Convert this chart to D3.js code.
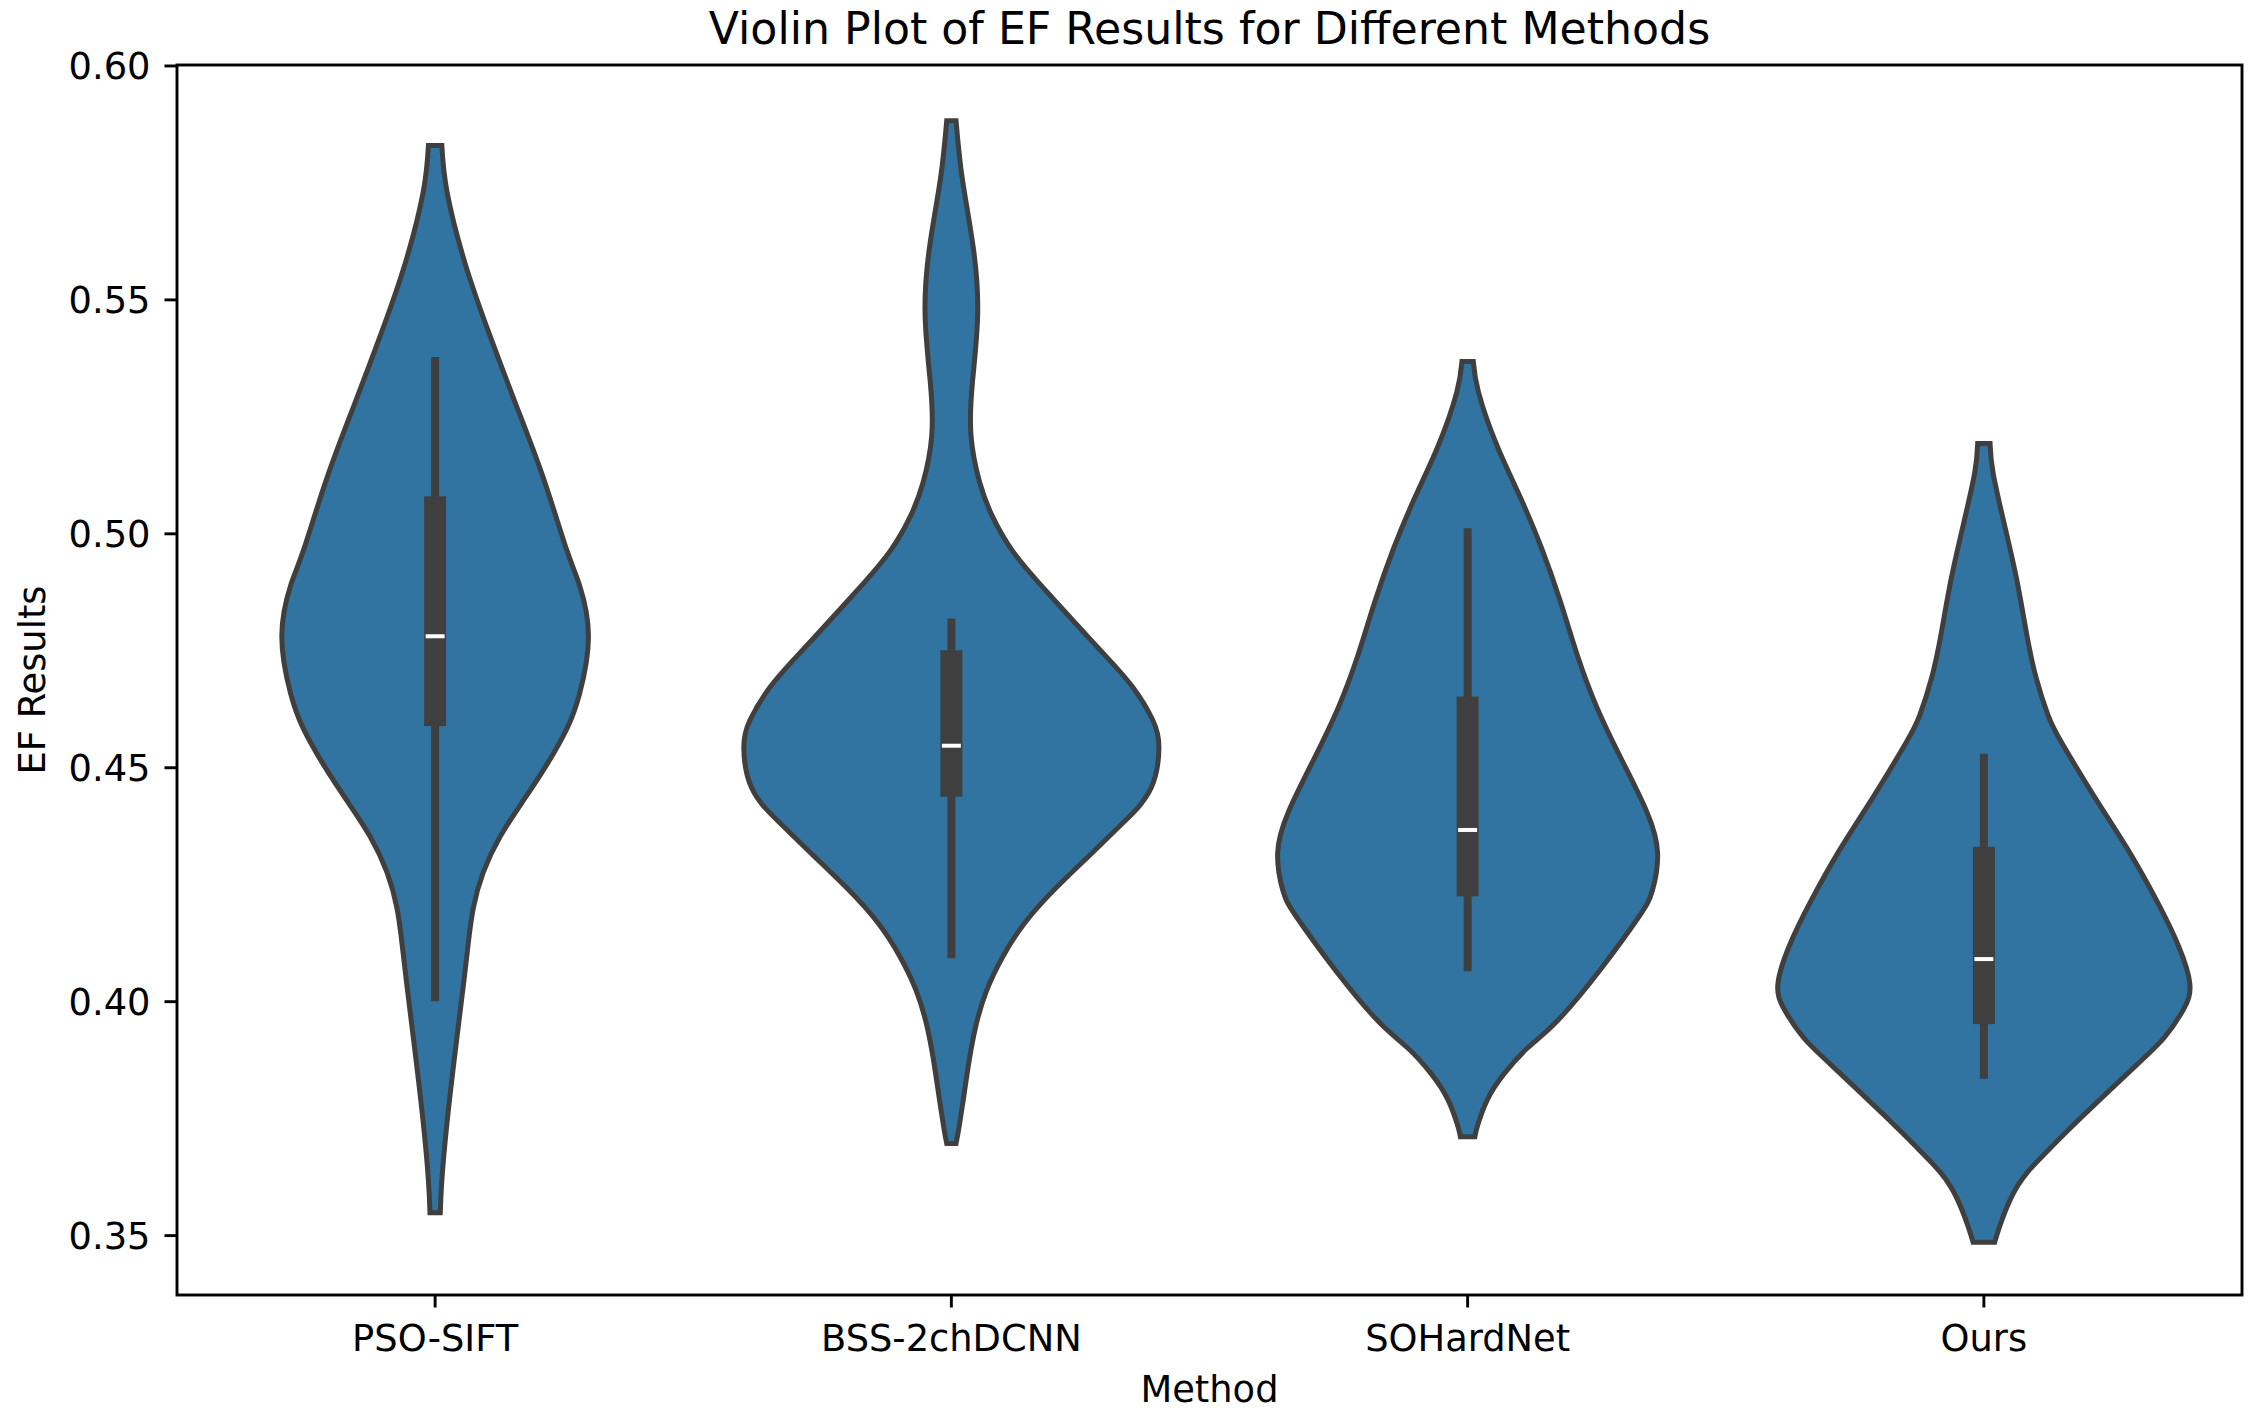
<!DOCTYPE html>
<html>
<head>
<meta charset="utf-8">
<script src="https://cdn.jsdelivr.net/npm/d3@7"></script>
<style>
  body { margin: 0; background: #fff; }
  text { font-family: "DejaVu Sans", sans-serif; fill: #000; }
</style>
</head>
<body>
<script>
/* categories and summary stats */
var methods = ["PSO-SIFT", "BSS-2chDCNN", "SOHardNet", "Ours"]
var yTicks = [0.35, 0.40, 0.45, 0.50, 0.55, 0.60]

var whiskerHigh = [0.5377, 0.4818, 0.5011, 0.4529]
var q3 = [0.5079, 0.4750, 0.4651, 0.4330]
var median = [0.4780, 0.4546, 0.4366, 0.4090]
var q1 = [0.4588, 0.4437, 0.4224, 0.3951]
var whiskerLow = [0.4000, 0.4092, 0.4064, 0.3834]

/* violin outlines: EF value and half width (share of one category slot) */
var psoSiftEF = [0.5829, 0.5730, 0.5577, 0.5423, 0.5271, 0.5117, 0.4964, 0.4888, 0.4780, 0.4658, 0.4582, 0.4505, 0.4429, 0.4352, 0.4275, 0.4199, 0.4122, 0.4046, 0.3893, 0.3740, 0.3617, 0.3548]
var psoSiftWidth = [0.013, 0.023, 0.058, 0.106, 0.158, 0.210, 0.255, 0.280, 0.297, 0.280, 0.255, 0.216, 0.171, 0.126, 0.093, 0.074, 0.064, 0.056, 0.039, 0.023, 0.013, 0.010]

var bssEF = [0.5882, 0.5759, 0.5614, 0.5470, 0.5325, 0.5209, 0.5108, 0.5035, 0.4963, 0.4891, 0.4818, 0.4746, 0.4673, 0.4601, 0.4543, 0.4456, 0.4384, 0.4311, 0.4239, 0.4167, 0.4094, 0.4022, 0.3950, 0.3877, 0.3804, 0.3732, 0.3696]
var bssWidth = [0.009, 0.021, 0.042, 0.051, 0.041, 0.038, 0.055, 0.080, 0.118, 0.172, 0.232, 0.292, 0.350, 0.390, 0.402, 0.387, 0.335, 0.267, 0.200, 0.142, 0.099, 0.068, 0.048, 0.035, 0.025, 0.015, 0.009]

var soHardEF = [0.5367, 0.5302, 0.5190, 0.5077, 0.4966, 0.4853, 0.4741, 0.4629, 0.4517, 0.4405, 0.4316, 0.4237, 0.4181, 0.4069, 0.3957, 0.3901, 0.3844, 0.3789, 0.3733, 0.3710]
var soHardWidth = [0.011, 0.021, 0.056, 0.102, 0.144, 0.180, 0.212, 0.250, 0.298, 0.347, 0.368, 0.358, 0.332, 0.258, 0.173, 0.117, 0.070, 0.038, 0.019, 0.014]

var oursEF = [0.5192, 0.5128, 0.5013, 0.4899, 0.4784, 0.4692, 0.4612, 0.4554, 0.4439, 0.4324, 0.4210, 0.4118, 0.4037, 0.3981, 0.3923, 0.3866, 0.3751, 0.3693, 0.3635, 0.3578, 0.3520, 0.3485]
var oursWidth = [0.012, 0.018, 0.041, 0.064, 0.083, 0.101, 0.124, 0.150, 0.213, 0.279, 0.337, 0.377, 0.399, 0.386, 0.350, 0.298, 0.188, 0.135, 0.085, 0.052, 0.031, 0.021]

var violinEF = [psoSiftEF, bssEF, soHardEF, oursEF]
var violinWidth = [psoSiftWidth, bssWidth, soHardWidth, oursWidth]

/* layout */
var W = 2264, H = 1413
var margin = { left: 177, right: 22, top: 65, bottom: 118 }
var plotR = W - margin.right, plotB = H - margin.bottom
var fill = "#3274a1", dark = "#3f3f3f"
var tickFont = "36.8px", titleFont = "44.2px"

var svg = d3.select("body").append("svg")
    .attr("width", W)
    .attr("height", H)

svg.append("rect").attr("width", W).attr("height", H).attr("fill", "#fff")

var x = d3.scaleBand()
    .domain(methods)
    .range([margin.left, plotR])
    .padding(0)

var y = d3.scaleLinear()
    .domain([0.3372, 0.6001])
    .range([plotB, margin.top])

// half width in pixels, 1 = one full category slot
var w = d3.scaleLinear().domain([0, 1]).range([0, x.step()])

/* violins */
var g = svg.append("g")
methods.forEach(function(m, i) {
    var cx = x(m) + x.bandwidth() / 2
    var pts = violinEF[i].map(function(v, j) { return { v: v, hw: violinWidth[i][j] } })

    var area = d3.area()
        .y(function(d) { return y(d.v) })
        .x0(function(d) { return cx - w(d.hw) })
        .x1(function(d) { return cx + w(d.hw) })
        .curve(d3.curveNatural)

    g.append("path")
        .datum(pts)
        .attr("d", area)
        .attr("fill", fill)
        .attr("stroke", dark)
        .attr("stroke-width", 5)
        .attr("stroke-linejoin", "miter")

    // whisker
    g.append("line")
        .attr("x1", cx).attr("x2", cx)
        .attr("y1", y(whiskerLow[i])).attr("y2", y(whiskerHigh[i]))
        .attr("stroke", dark)
        .attr("stroke-width", 8)

    // box
    g.append("rect")
        .attr("x", cx - 11)
        .attr("width", 22)
        .attr("y", y(q3[i]))
        .attr("height", y(q1[i]) - y(q3[i]))
        .attr("fill", dark)

    // median
    g.append("line")
        .attr("x1", cx - 9.5).attr("x2", cx + 9.5)
        .attr("y1", y(median[i])).attr("y2", y(median[i]))
        .attr("stroke", "#fff")
        .attr("stroke-width", 4)
})

/* axes */
var yAxis = svg.append("g")
    .attr("transform", "translate(" + margin.left + ",0)")
    .call(d3.axisLeft(y).tickValues(yTicks).tickSize(12.5).tickPadding(14).tickFormat(d3.format(".2f")))
yAxis.select(".domain").remove()
yAxis.selectAll("line").attr("stroke", "#000").attr("stroke-width", 2.9)
yAxis.selectAll("text")
    .attr("font-size", tickFont)
    .attr("font-family", "DejaVu Sans")
    .attr("dy", "0.36em")
    .attr("fill", "#000")

var xAxis = svg.append("g")
    .attr("transform", "translate(0," + plotB + ")")
    .call(d3.axisBottom(x).tickSize(12.5).tickPadding(17))
xAxis.select(".domain").remove()
xAxis.selectAll("line").attr("stroke", "#000").attr("stroke-width", 2.9)
xAxis.selectAll("text")
    .attr("font-size", tickFont)
    .attr("font-family", "DejaVu Sans")
    .attr("fill", "#000")

/* frame on top */
svg.append("rect")
    .attr("x", margin.left)
    .attr("y", margin.top)
    .attr("width", plotR - margin.left)
    .attr("height", plotB - margin.top)
    .attr("fill", "none")
    .attr("stroke", "#000")
    .attr("stroke-width", 2.9)

/* titles */
var midX = (margin.left + plotR) / 2
svg.append("text")
    .attr("x", midX)
    .attr("y", 44)
    .attr("text-anchor", "middle")
    .attr("font-size", titleFont)
    .text("Violin Plot of EF Results for Different Methods")

svg.append("text")
    .attr("x", midX)
    .attr("y", 1402)
    .attr("text-anchor", "middle")
    .attr("font-size", tickFont)
    .text("Method")

svg.append("text")
    .attr("transform", "translate(45," + (margin.top + plotB) / 2 + ") rotate(-90)")
    .attr("text-anchor", "middle")
    .attr("font-size", tickFont)
    .text("EF Results")
</script>
</body>
</html>
